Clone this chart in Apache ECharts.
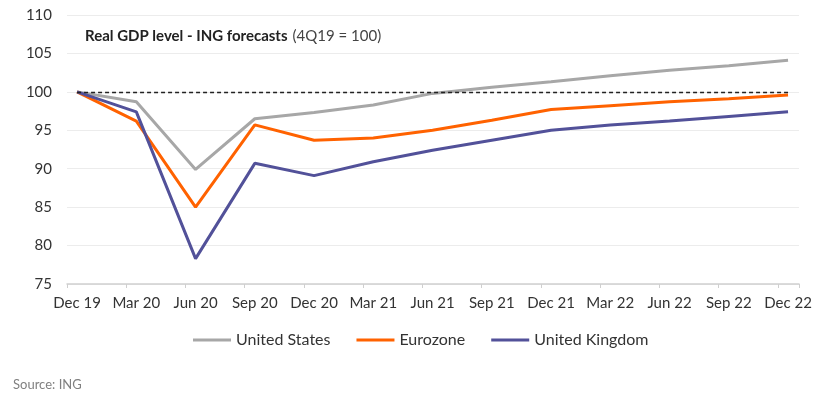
<!DOCTYPE html>
<html>
<head>
<meta charset="utf-8">
<script src="https://cdn.jsdelivr.net/npm/echarts@6/dist/echarts.min.js"></script>
<style>
  html, body { margin: 0; padding: 0; background: #fff; }
  #main { width: 823px; height: 399px; }
</style>
</head>
<body>
<div id="main"></div>
<script>
// quarters, 4Q19 = 100
var categories = ['Dec 19', 'Mar 20', 'Jun 20', 'Sep 20', 'Dec 20', 'Mar 21', 'Jun 21',
  'Sep 21', 'Dec 21', 'Mar 22', 'Jun 22', 'Sep 22', 'Dec 22'];
var unitedStates = [100, 98.7, 89.9, 96.5, 97.3, 98.3, 99.8, 100.6, 101.3, 102.1, 102.8, 103.4, 104.1];
var eurozone = [100, 96.2, 85.0, 95.7, 93.7, 94.0, 95.0, 96.3, 97.7, 98.2, 98.7, 99.1, 99.6];
var unitedKingdom = [100, 97.4, 78.3, 90.7, 89.1, 90.9, 92.4, 93.7, 95.0, 95.7, 96.2, 96.8, 97.4];
var yTicks = [75, 80, 85, 90, 95, 100, 105, 110];

var font = "Lato, 'Open Sans', sans-serif";

function pairs(arr) {
  return arr.map(function (v, i) { return [i, v]; });
}

var chart = echarts.init(document.getElementById('main'));

// labels sit on the points, excel-style ticks sit a bit to the left
var labelValues = categories.map(function (c, i) { return i; });
var tickValues = categories.map(function (c, i) { return i - 0.17; });
tickValues.push(12.185);

function lineSeries(name, data, color) {
  return {
    name: name,
    type: 'line',
    data: pairs(data),
    symbol: 'none',
    lineStyle: { width: 3, color: color },
    itemStyle: { color: color },
    z: 3
  };
}

var series = [
  lineSeries('United States', unitedStates, '#a7a7a7'),
  lineSeries('Eurozone', eurozone, '#ff6200'),
  lineSeries('United Kingdom', unitedKingdom, '#525199')
];
series[0].markLine = {
  silent: true,
  symbol: 'none',
  label: { show: false },
  lineStyle: { color: '#222', type: [4, 3], width: 1.3 },
  data: [[{ coord: [0, 100] }, { coord: [12, 100] }]]
};

chart.setOption({
  animation: false,
  title: {
    text: '{b|Real GDP level - ING forecasts} {n|(4Q19 = 100)}',
    left: 80,
    top: 22,
    textStyle: {
      fontWeight: 'normal',
      rich: {
        b: { fontFamily: font, fontSize: 15, fontWeight: 'bold', color: '#222' },
        n: { fontFamily: font, fontSize: 15, fontWeight: 'normal', color: '#444' }
      }
    }
  },
  legend: {
    bottom: 46,
    left: 188,
    icon: 'rect',
    itemWidth: 38,
    itemHeight: 3,
    itemGap: 26,
    textStyle: { fontFamily: font, fontSize: 16, color: '#333' },
    data: ['United States', 'Eurozone', 'United Kingdom']
  },
  grid: { left: 67, right: 24, top: 15, bottom: 115 },
  xAxis: {
    type: 'value',
    min: -0.17,
    max: 12.185,
    axisLine: { show: true, lineStyle: { color: '#cfcfcf', width: 1.5 } },
    axisTick: { show: true, customValues: tickValues, length: 4, lineStyle: { color: '#cfcfcf' } },
    splitLine: { show: false },
    axisLabel: {
      customValues: labelValues,
      formatter: function (v) { return categories[Math.round(v)]; },
      fontFamily: font,
      fontSize: 15,
      color: '#333',
      margin: 12
    }
  },
  yAxis: {
    type: 'value',
    min: yTicks[0],
    max: yTicks[yTicks.length - 1],
    interval: 5,
    axisLine: { show: false },
    axisTick: { show: false },
    splitLine: { lineStyle: { color: '#ececec', width: 1 } },
    axisLabel: { fontFamily: font, fontSize: 15, color: '#333', margin: 15 }
  },
  graphic: [{
    type: 'text',
    left: 13,
    top: 378,
    style: { text: 'Source: ING', fontFamily: font, fontSize: 13, fill: '#808080' }
  }],
  series: series
});
</script>
</body>
</html>
